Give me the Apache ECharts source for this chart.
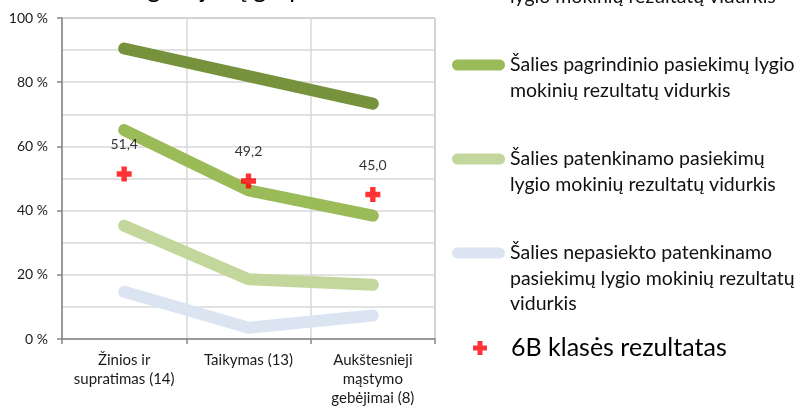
<!DOCTYPE html>
<html><head><meta charset="utf-8">
<script src="https://cdn.jsdelivr.net/npm/echarts@6/dist/echarts.min.js"></script>
<style>html,body{margin:0;padding:0;background:#fff}#c{width:800px;height:408px}</style>
</head><body><div id="c"></div>
<script>
const categories = ['Žinios ir\nsupratimas (14)', 'Taikymas (13)', 'Aukštesnieji\nmąstymo\ngebėjimai (8)'];
const nameAdvanced = 'Šalies aukštesniojo pasiekimų\nlygio mokinių rezultatų vidurkis';
const nameBasic = 'Šalies pagrindinio pasiekimų lygio\nmokinių rezultatų vidurkis';
const nameSatisfactory = 'Šalies patenkinamo pasiekimų\nlygio mokinių rezultatų vidurkis';
const nameNotReached = 'Šalies nepasiekto patenkinamo\npasiekimų lygio mokinių rezultatų\nvidurkis';
const nameClass = '6B klasės rezultatas';
const advanced = [90.5, 81.9, 73.3];
const basic = [65.1, 46.3, 38.4];
const satisfactory = [35.3, 18.6, 16.9];
const notReached = [14.7, 3.5, 7.3];
const classResult = [51.4, 49.2, 45.0];
const yTickLabels = ['0 %', '20 %', '40 %', '60 %', '80 %', '100 %'];
const titleText = 'Rezultatai gebėjimų grupėse';

const FONT = 'Lato';
const capsule = 'path://M5.5,0H47.5A5.5,5.5,0,0,1,47.5,11H5.5A5.5,5.5,0,0,1,5.5,0Z';
const cross = 'path://M3.2,0H6.8V3.2H10V6.8H6.8V10H3.2V6.8H0V3.2H3.2Z';
const colors = ['#76923C', '#9BBB59', '#C3D69B', '#DBE5F1', '#FF0000'];
const LH = 25.5;

// legend entry whose icon sits level with the first text line
function legendFor(name, iconY) {
  const n = name.split('\n').length;
  return {
    data: [{ name: name, icon: capsule }],
    left: 452,
    top: iconY - (2 * n - 1) * LH / 2,
    padding: 0,
    itemWidth: 53,
    itemHeight: 11,
    itemGap: 0,
    selectedMode: false,
    itemStyle: { borderWidth: 0 },
    formatter: function (nm) { return '\n'.repeat(n - 1) + nm; },
    textStyle: { fontFamily: FONT, fontSize: 19.5, color: '#111', lineHeight: LH }
  };
}

function lineSeries(name, data, color) {
  return {
    name: name, type: 'line', data: data,
    showSymbol: false, symbol: 'none',
    itemStyle: { color: color },
    lineStyle: { color: color, width: 12, cap: 'round', join: 'round' },
    z: 2
  };
}

const chart = echarts.init(document.getElementById('c'));
chart.setOption({
  animation: false,
  title: {
    text: titleText, left: 28, top: -28,
    textStyle: { fontFamily: FONT, fontSize: 25, fontWeight: 'normal', color: '#000' }
  },
  grid: { left: 62, right: 365, top: 18, bottom: 66, show: true, borderColor: '#868686', borderWidth: 1 },
  legend: [
    legendFor(nameAdvanced, -29),
    legendFor(nameBasic, 65),
    legendFor(nameSatisfactory, 159),
    legendFor(nameNotReached, 253),
    {
      data: [{ name: nameClass, icon: cross }],
      left: 473, top: 348 - 15, padding: 0,
      itemWidth: 14, itemHeight: 14, itemGap: 0,
      selectedMode: false,
      itemStyle: { borderWidth: 0 },
      formatter: function (nm) { return '{t|' + nm + '}'; },
      textStyle: {
        fontFamily: FONT, fontSize: 25, color: '#000', lineHeight: 30,
        rich: { t: { fontFamily: FONT, fontSize: 25, color: '#000', lineHeight: 30, padding: [0, 0, 0, 19] } }
      }
    }
  ],
  xAxis: {
    type: 'category', data: categories, boundaryGap: true,
    axisLine: { lineStyle: { color: '#868686', width: 1.5 } },
    axisTick: { show: true, length: 5, lineStyle: { color: '#868686', width: 1.5 } },
    splitLine: { show: true, lineStyle: { color: '#d9d9d9', width: 1.5 } },
    axisLabel: { interval: 0, fontFamily: FONT, fontSize: 15, color: '#1a1a1a', lineHeight: 19, margin: 12 }
  },
  yAxis: {
    type: 'value', min: 0, max: 100, interval: 20,
    axisLine: { show: true, lineStyle: { color: '#868686', width: 1.5 } },
    axisTick: { show: true, length: 5, lineStyle: { color: '#868686', width: 1.5 } },
    splitLine: { show: true, lineStyle: { color: '#d9d9d9', width: 1.5 } },
    minorTick: { show: false, splitNumber: 2 },
    minorSplitLine: { show: true, lineStyle: { color: '#d9d9d9', width: 1.5 } },
    axisLabel: {
      fontFamily: FONT, fontSize: 14, color: '#1a1a1a', margin: 14,
      formatter: function (v) { return yTickLabels[Math.round(v / 20)]; }
    }
  },
  series: [
    lineSeries(nameAdvanced, advanced, colors[0]),
    lineSeries(nameBasic, basic, colors[1]),
    lineSeries(nameSatisfactory, satisfactory, colors[2]),
    lineSeries(nameNotReached, notReached, colors[3]),
    {
      name: nameClass, type: 'scatter', data: classResult,
      symbol: cross, symbolSize: 15,
      itemStyle: { color: colors[4] },
      z: 5,
      label: {
        show: true, position: 'top', distance: 15,
        fontFamily: FONT, fontSize: 14, color: '#000',
        formatter: function (p) { return p.value.toFixed(1).replace('.', ','); }
      }
    }
  ]
});
</script></body></html>
